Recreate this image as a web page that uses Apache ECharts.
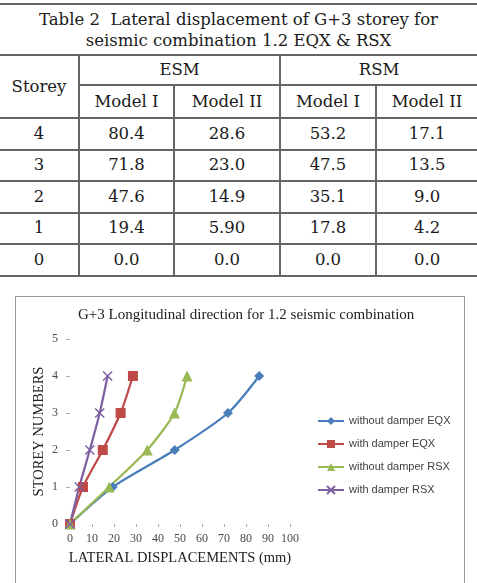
<!DOCTYPE html>
<html>
<head>
<meta charset="utf-8">
<script src="https://cdn.jsdelivr.net/npm/echarts@6/dist/echarts.min.js"></script>
<style>
  html, body { margin: 0; padding: 0; background: #fff; }
  body { width: 477px; height: 583px; overflow: hidden; position: relative; }
  .disp-table {
    position: absolute; left: 0; top: 3px; width: 477px;
    border-collapse: collapse; table-layout: fixed;
    font-family: "DejaVu Serif", serif; font-size: 16.5px; color: #1a1a1a;
  }
  .disp-table td {
    border: 2px solid #666; text-align: center; padding: 0; line-height: 20px;
  }
  .disp-table tr td:first-child { border-left: none; }
  .disp-table tr td:last-child { border-right: none; }
  .disp-table .title { height: 48px; line-height: 21px; padding-top: 1px; }
  .chart-frame {
    position: absolute; left: 15px; top: 296px; width: 448px; height: 300px;
    border: 1px solid #999; pointer-events: none;
  }
  #chart { position: absolute; left: 15px; top: 296px; width: 450px; height: 287px; }
</style>
</head>
<body>
<table class="disp-table" id="dispTable">
  <colgroup>
    <col style="width:79px"><col style="width:95px"><col style="width:106px"><col style="width:96px"><col style="width:101px">
  </colgroup>
  <tr><td class="title" colspan="5">Table 2&nbsp; Lateral displacement of G+3 storey for<br>seismic combination 1.2 EQX &amp; RSX</td></tr>
  <tr style="height:30px"><td rowspan="2">Storey</td><td colspan="2">ESM</td><td colspan="2">RSM</td></tr>
  <tr style="height:33px"><td>Model I</td><td>Model II</td><td>Model I</td><td>Model II</td></tr>
</table>
<div id="chart"></div>
<div class="chart-frame"></div>
<script>
  // 表格数据
  const tableStoreys = ['4', '3', '2', '1', '0'];
  const esmModelI = ['80.4', '71.8', '47.6', '19.4', '0.0'];
  const esmModelII = ['28.6', '23.0', '14.9', '5.90', '0.0'];
  const rsmModelI = ['53.2', '47.5', '35.1', '17.8', '0.0'];
  const rsmModelII = ['17.1', '13.5', '9.0', '4.2', '0.0'];

  // 图表数据 (storey 0..4)
  const storeyLevels = [0, 1, 2, 3, 4];
  const withoutDamperEQX = [0, 19.4, 47.6, 71.8, 86.0];
  const withDamperEQX = [0, 5.9, 14.9, 23.0, 28.6];
  const withoutDamperRSX = [0, 17.8, 35.1, 47.5, 53.2];
  const withDamperRSX = [0, 4.2, 9.0, 13.5, 17.1];
  const seriesNames = ['without damper EQX', 'with damper EQX', 'without damper RSX', 'with damper RSX'];

  const table = document.getElementById('dispTable');
  tableStoreys.forEach((s, i) => {
    const tr = document.createElement('tr');
    tr.style.height = '31.5px';
    [s, esmModelI[i], esmModelII[i], rsmModelI[i], rsmModelII[i]].forEach(v => {
      const td = document.createElement('td');
      td.textContent = v;
      tr.appendChild(td);
    });
    table.appendChild(tr);
  });

  const toPoints = (values) => values.map((x, i) => [x, storeyLevels[i]]);
  const serif = '"Liberation Serif", "Times New Roman", serif';
  const tickColor = '#4a4a4a';

  const makeSeries = (name, values, color, symbol, symbolSize, extraItem) => ({
    name: name,
    type: 'line',
    data: toPoints(values),
    smooth: 0.25,
    symbol: symbol,
    symbolSize: symbolSize,
    showAllSymbol: true,
    lineStyle: { color: color, width: 2.25 },
    itemStyle: Object.assign({ color: color }, extraItem || {}),
    z: 3
  });

  const chart = echarts.init(document.getElementById('chart'));
  chart.setOption({
    animation: false,
    backgroundColor: 'transparent',
    title: {
      text: 'G+3 Longitudinal direction for 1.2 seismic combination',
      left: 58,
      top: 7,
      textStyle: { fontFamily: serif, fontSize: 15, fontWeight: 'normal', color: '#222' }
    },
    grid: { left: 55, top: 43, width: 220, height: 185 },
    legend: {
      orient: 'vertical',
      left: 297,
      top: 113,
      itemWidth: 26,
      itemHeight: 10,
      itemGap: 9,
      data: seriesNames,
      textStyle: { fontFamily: '"Liberation Sans", sans-serif', fontSize: 11, color: '#404040', lineHeight: 14 }
    },
    xAxis: {
      type: 'value',
      min: 0,
      max: 100,
      interval: 10,
      name: 'LATERAL DISPLACEMENTS (mm)',
      nameLocation: 'middle',
      nameGap: 27,
      nameTextStyle: { fontFamily: serif, fontSize: 14.5, color: '#222' },
      axisLine: { show: false },
      axisTick: { show: true, length: 3, lineStyle: { color: '#aaa' } },
      axisLabel: { fontFamily: serif, fontSize: 12, color: tickColor, margin: 9 },
      splitLine: { show: false }
    },
    yAxis: {
      type: 'value',
      min: 0,
      max: 5,
      interval: 1,
      name: 'STOREY NUMBERS',
      nameLocation: 'middle',
      nameRotate: 90,
      nameGap: 23,
      nameTextStyle: { fontFamily: serif, fontSize: 14.5, color: '#222' },
      axisLine: { show: false },
      axisTick: { show: true, length: 4, lineStyle: { color: '#aaa' } },
      axisLabel: { fontFamily: serif, fontSize: 12, color: tickColor, margin: 12 },
      splitLine: { show: false }
    },
    series: [
      makeSeries(seriesNames[0], withoutDamperEQX, '#4A7EBB', 'diamond', 10),
      makeSeries(seriesNames[1], withDamperEQX, '#BE4B48', 'rect', 10),
      makeSeries(seriesNames[2], withoutDamperRSX, '#98B954', 'triangle', 11),
      makeSeries(seriesNames[3], withDamperRSX, '#7D60A0', 'path://M0,0L10,10M10,0L0,10', 9,
        { borderColor: '#7D60A0', borderWidth: 1.5 })
    ]
  });
</script>
</body>
</html>
